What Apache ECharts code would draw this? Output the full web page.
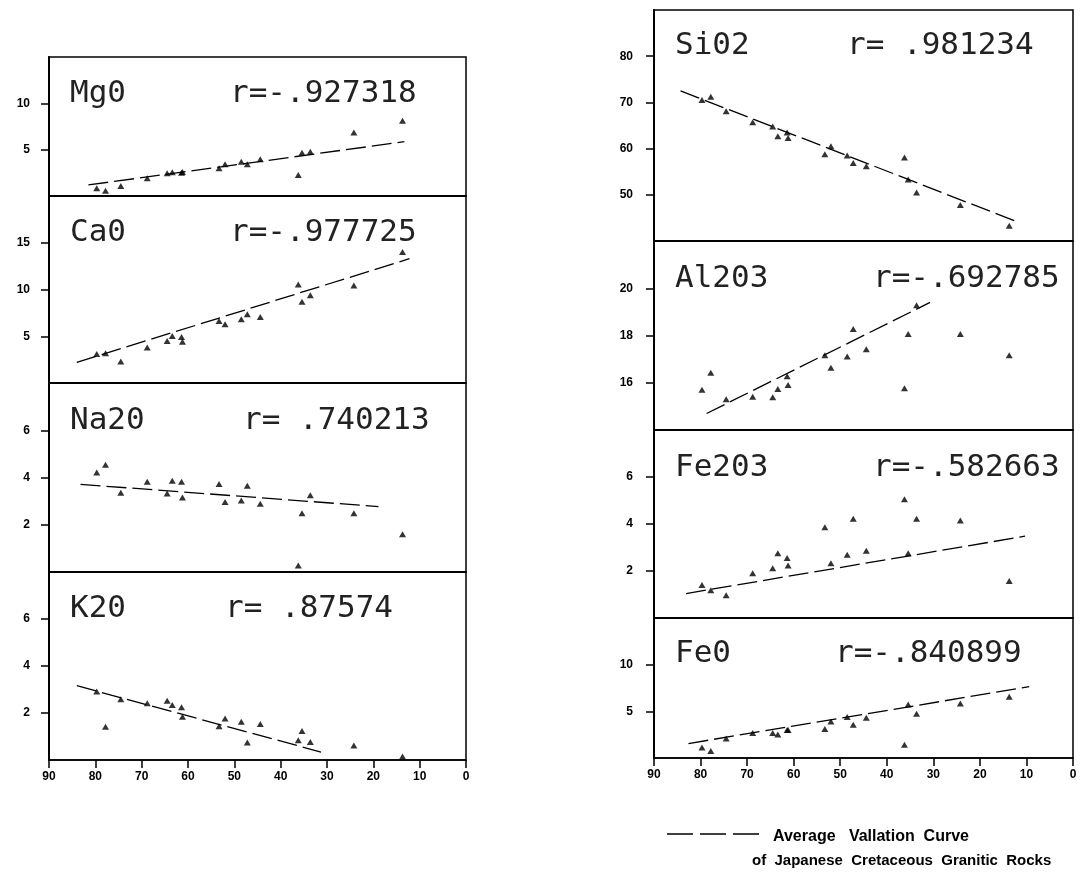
<!DOCTYPE html>
<html><head><meta charset="utf-8">
<script src="https://cdn.jsdelivr.net/npm/echarts@6/dist/echarts.min.js"></script>
<style>html,body{margin:0;padding:0;background:#fff}#c{width:1082px;height:875px}</style>
</head><body><div id="c"></div>
<script>
// x values of the samples (shared by all panels)
const SAMPLE_X = [79.7, 77.8, 74.5, 68.8, 64.5, 63.4, 61.4, 61.2, 53.3, 52.0, 48.5, 47.2, 44.4, 36.2, 35.4, 33.6, 24.2, 13.7];
const X_TICKS = [90, 80, 70, 60, 50, 40, 30, 20, 10, 0];

// oxide values (wt%)
const MGO   = [0.83, 0.57, 1.08, 1.91, 2.45, 2.56, 2.52, 2.60, 2.99, 3.42, 3.70, 3.42, 3.96, 2.27, 4.68, 4.78, 6.84, 8.13];
const CAO   = [3.09, 3.19, 2.31, 3.80, 4.50, 5.03, 4.93, 4.40, 6.63, 6.28, 6.81, 7.34, 7.05, 10.53, 8.69, 9.39, 10.43, 14.01];
const NA2O  = [4.21, 4.54, 3.35, 3.82, 3.32, 3.86, 3.82, 3.15, 3.72, 2.96, 3.03, 3.65, 2.89, 0.28, 2.49, 3.25, 2.49, 1.60];
const K2O   = [2.92, 1.41, 2.59, 2.42, 2.52, 2.34, 2.25, 1.84, 1.44, 1.77, 1.63, 0.74, 1.53, 0.84, 1.23, 0.77, 0.62, 0.15];
const SIO2  = [70.5, 71.2, 68.1, 65.7, 64.8, 62.7, 63.5, 62.3, 58.8, 60.5, 58.5, 56.9, 56.2, 58.1, 53.3, 50.5, 47.8, 43.3];
const AL2O3 = [15.70, 16.42, 15.30, 15.41, 15.39, 15.74, 16.27, 15.91, 17.16, 16.63, 17.11, 18.28, 17.42, 15.77, 18.06, 19.28, 18.06, 17.16];
const FE2O3 = [1.40, 1.18, 0.97, 1.90, 2.12, 2.76, 2.55, 2.23, 3.86, 2.33, 2.69, 4.22, 2.86, 5.05, 2.76, 4.22, 4.15, 1.57];
const FEO   = [1.12, 0.76, 2.10, 2.68, 2.68, 2.53, 3.01, 3.01, 3.12, 3.91, 4.38, 3.55, 4.32, 1.41, 5.73, 4.75, 5.84, 6.55];

// average variation curves (end points)
const MGO_LINE   = [[81.5, 1.19], [13.3, 5.86]];
const CAO_LINE   = [[84.0, 2.20], [12.2, 13.3]];
const NA2O_LINE  = [[83.2, 3.71], [18.9, 2.77]];
const K2O_LINE   = [[84.0, 3.16], [31.3, 0.34]];
const SIO2_LINE  = [[84.3, 72.5], [12.1, 44.2]];
const AL2O3_LINE = [[78.7, 14.7], [30.7, 19.4]];
const FE2O3_LINE = [[83.1, 1.04], [10.3, 3.48]];
const FEO_LINE   = [[82.6, 1.55], [9.4, 7.64]];

// labels
const NAMES = ['Mg0', 'Ca0', 'Na20', 'K20', 'Si02', 'Al203', 'Fe203', 'Fe0'];
const R_TEXT = ['r=-.927318', 'r=-.977725', 'r= .740213', 'r= .87574', 'r= .981234', 'r=-.692785', 'r=-.582663', 'r=-.840899'];
const Y_TICKS = [[5, 10], [5, 10, 15], [2, 4, 6], [2, 4, 6], [50, 60, 70, 80], [16, 18, 20], [2, 4, 6], [5, 10]];
const Y_RANGE = [[0, 15], [0, 20], [0, 8], [0, 8], [40, 90], [14, 22], [0, 8], [0, 15]];
const LEGEND_TEXT = ['Average   Vallation  Curve', 'of  Japanese  Cretaceous  Granitic  Rocks'];

const VALUES = [MGO, CAO, NA2O, K2O, SIO2, AL2O3, FE2O3, FEO];
const LINES = [MGO_LINE, CAO_LINE, NA2O_LINE, K2O_LINE, SIO2_LINE, AL2O3_LINE, FE2O3_LINE, FEO_LINE];

// layout
const LAYOUT = [
  {left: 49, top: 57, width: 417, height: 139, nameX: 70, rX: 230, base: 104, lm: 19, bottom: false},
  {left: 49, top: 196, width: 417, height: 187, nameX: 70, rX: 230, base: 243, lm: 19, bottom: false},
  {left: 49, top: 383, width: 417, height: 189, nameX: 70, rX: 243, base: 431, lm: 19, bottom: false},
  {left: 49, top: 572, width: 417, height: 188, nameX: 70, rX: 225, base: 619, lm: 19, bottom: true},
  {left: 654, top: 10, width: 419, height: 231, nameX: 675, rX: 847, base: 56, lm: 21, bottom: false},
  {left: 654, top: 241, width: 419, height: 189, nameX: 675, rX: 873, base: 289, lm: 21, bottom: false},
  {left: 654, top: 430, width: 419, height: 188, nameX: 675, rX: 873, base: 478, lm: 21, bottom: false},
  {left: 654, top: 618, width: 419, height: 140, nameX: 675, rX: 835, base: 664, lm: 21, bottom: true}
];

const chart = echarts.init(document.getElementById('c'), null, {renderer: 'canvas'});
const black = '#000';
const grids = [], xAxes = [], yAxes = [], series = [], graphics = [];
LAYOUT.forEach((L, i) => {
  grids.push({left: L.left, top: L.top, width: L.width, height: L.height, show: true,
    borderColor: black, borderWidth: 1.5, backgroundColor: 'transparent', containLabel: false});
  xAxes.push({gridIndex: i, type: 'value', inverse: true, min: 0, max: 90, interval: 10,
    axisLine: {show: true, onZero: false, lineStyle: {color: black, width: 1.5}},
    axisTick: {show: L.bottom, length: 8, inside: false, lineStyle: {color: black, width: 1.5}},
    axisLabel: {show: L.bottom, margin: 11, color: black, fontFamily: 'Liberation Sans', fontWeight: 'bold', fontSize: 12,
      formatter: v => X_TICKS.includes(v) ? String(v) : ''},
    splitLine: {show: false}});
  yAxes.push({gridIndex: i, type: 'value', min: Y_RANGE[i][0], max: Y_RANGE[i][1],
    axisLine: {show: true, onZero: false, lineStyle: {color: black, width: 2}},
    axisTick: {show: true, length: 8, customValues: Y_TICKS[i], lineStyle: {color: black, width: 1.5}},
    axisLabel: {show: true, customValues: Y_TICKS[i], margin: L.lm, color: black,
      fontFamily: 'Liberation Sans', fontWeight: 'bold', fontSize: 12},
    splitLine: {show: false}});
  series.push({type: 'scatter', xAxisIndex: i, yAxisIndex: i, symbol: 'triangle', symbolSize: [7, 6],
    itemStyle: {color: black}, silent: true,
    data: SAMPLE_X.map((x, j) => [x, VALUES[i][j]])});
  series.push({type: 'line', xAxisIndex: i, yAxisIndex: i, symbol: 'none', showSymbol: false, silent: true,
    lineStyle: {color: black, width: 1.3, type: [20, 6]}, data: LINES[i]});
  graphics.push({type: 'text', x: L.nameX, y: L.base - 10, silent: true,
    style: {text: NAMES[i], fill: '#222', font: '31px "DejaVu Sans Mono"', verticalAlign: 'middle', align: 'left'}});
  graphics.push({type: 'text', x: L.rX, y: L.base - 10, silent: true,
    style: {text: R_TEXT[i], fill: '#222', font: '31px "DejaVu Sans Mono"', verticalAlign: 'middle', align: 'left'}});
});
graphics.push({type: 'line', silent: true, shape: {x1: 667, y1: 834, x2: 760, y2: 834},
  style: {stroke: black, lineWidth: 1.3, lineDash: [26, 7]}});
graphics.push({type: 'text', x: 773, y: 837, silent: true,
  style: {text: LEGEND_TEXT[0], fill: black, font: 'bold 16px "Liberation Sans"', verticalAlign: 'middle', align: 'left'}});
graphics.push({type: 'text', x: 752, y: 861, silent: true,
  style: {text: LEGEND_TEXT[1], fill: black, font: 'bold 15px "Liberation Sans"', verticalAlign: 'middle', align: 'left'}});

chart.setOption({
  animation: false,
  backgroundColor: '#fff',
  grid: grids, xAxis: xAxes, yAxis: yAxes, series: series, graphic: graphics
});
</script></body></html>
